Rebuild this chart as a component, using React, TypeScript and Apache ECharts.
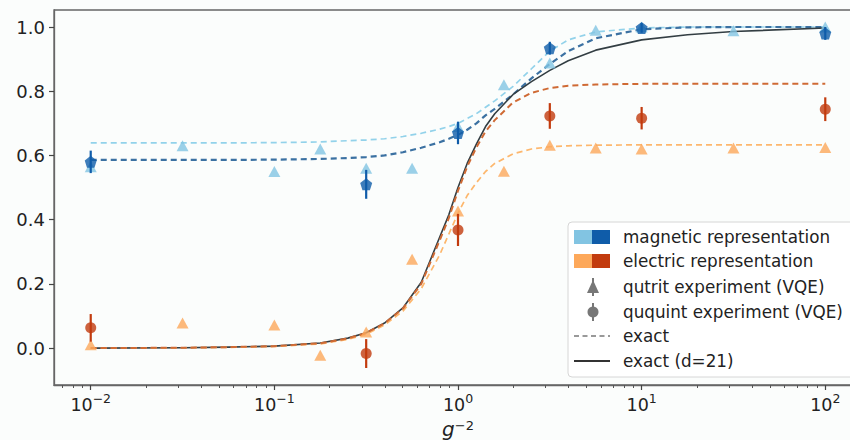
import React, { useEffect, useRef } from 'react';
import * as echarts from 'echarts';

// x values are stored as log10(g^-2)
const majorLogTicks = [-2, -1, 0, 1, 2];
const yTicks = [0, 0.2, 0.4, 0.6, 0.8, 1.0];

// exact curves
const curveLogG = [-2, -1.5, -1.25, -1, -0.75, -0.6, -0.5, -0.4, -0.3, -0.2, -0.1, -0.05, 0, 0.05, 0.1, 0.15, 0.2, 0.3, 0.4, 0.5, 0.6, 0.75, 1, 1.25, 1.5, 2];
const exactQutritMag = [0.639, 0.639, 0.639, 0.64, 0.642, 0.646, 0.648, 0.652, 0.659, 0.669, 0.682, 0.69, 0.7, 0.715, 0.73, 0.75, 0.77, 0.815, 0.87, 0.925, 0.96, 0.985, 0.997, 1.0, 1.0, 1.0];
const exactQuquintMag = [0.586, 0.586, 0.586, 0.587, 0.589, 0.592, 0.595, 0.6, 0.61, 0.624, 0.641, 0.652, 0.664, 0.68, 0.7, 0.725, 0.745, 0.79, 0.84, 0.885, 0.925, 0.965, 0.993, 0.999, 1.0, 1.0];
const exactQutritElec = [0, 0.001, 0.002, 0.005, 0.013, 0.027, 0.043, 0.072, 0.115, 0.185, 0.29, 0.355, 0.42, 0.475, 0.515, 0.55, 0.575, 0.605, 0.62, 0.627, 0.63, 0.632, 0.633, 0.633, 0.633, 0.633];
const exactQuquintElec = [0, 0.001, 0.003, 0.006, 0.015, 0.03, 0.047, 0.077, 0.123, 0.2, 0.335, 0.405, 0.49, 0.565, 0.625, 0.675, 0.71, 0.765, 0.795, 0.81, 0.817, 0.821, 0.823, 0.823, 0.823, 0.823];
const exactD21 = [0, 0.001, 0.003, 0.006, 0.016, 0.031, 0.048, 0.078, 0.125, 0.205, 0.345, 0.415, 0.5, 0.575, 0.635, 0.69, 0.73, 0.79, 0.83, 0.865, 0.895, 0.928, 0.96, 0.976, 0.986, 0.997];

// qutrit experiment (triangles)
const qutritLogG = [-2, -1.5, -1, -0.75, -0.5, -0.25, 0, 0.25, 0.5, 0.75, 1, 1.5, 2];
const qutritMag = [0.565, 0.63, 0.55, 0.62, 0.56, 0.56, 0.69, 0.82, 0.888, 0.99, 1.0, 0.988, 1.0];
const qutritElec = [0.01, 0.078, 0.072, -0.022, 0.05, 0.277, 0.427, 0.551, 0.632, 0.623, 0.62, 0.623, 0.625];

// ququint experiment (dots with error bars)
const ququintLogG = [-2, -0.5, 0, 0.5, 1, 2];
const ququintMag = [0.58, 0.51, 0.67, 0.934, 0.997, 0.98];
const ququintMagErr = [0.035, 0.045, 0.035, 0.02, 0.015, 0.02];
const ququintElec = [0.063, -0.017, 0.368, 0.723, 0.716, 0.744];
const ququintElecErr = [0.043, 0.045, 0.05, 0.04, 0.035, 0.037];

const legendLabels = [
  'magnetic representation',
  'electric representation',
  'qutrit experiment (VQE)',
  'ququint experiment (VQE)',
  'exact',
  'exact (d=21)',
];

const C = {
  lightBlue: '#82c4e2',
  darkBlue: '#0f5ca9',
  lightOrange: '#fda85a',
  darkRed: '#c23b0e',
  lbDash: '#92d2ea',
  dbDash: '#3b71a2',
  loDash: '#fdb76d',
  doDash: '#cf6a34',
  black: '#333e43',
  frame: '#666',
  text: '#222',
};

const FONT = 'DejaVu Sans';

const minorLogTicks: number[] = [];
for (let n = -3; n <= 2; n++) {
  for (let k = 2; k <= 9; k++) {
    const v = n + Math.log10(k);
    if (v > -2.2 && v < 2.2) minorLogTicks.push(v);
  }
}

const zip = (xs: number[], ys: number[]) => xs.map((x, i) => [x, ys[i]]);

function lineSeries(data: number[], color: string, width: number, dashed: boolean, z: number) {
  return {
    type: 'line',
    data: zip(curveLogG, data),
    showSymbol: false,
    smooth: false,
    lineStyle: { color, width, type: dashed ? [6, 4] : 'solid', join: 'round' },
    z,
    silent: true,
  };
}

function errorSeries(xs: number[], ys: number[], errs: number[], color: string) {
  return {
    type: 'custom',
    data: xs.map((x, i) => [x, ys[i], errs[i]]),
    encode: { x: 0, y: 1 },
    renderItem: (_p: any, api: any) => {
      const x = api.value(0);
      const y = api.value(1);
      const e = api.value(2);
      const p1 = api.coord([x, y - e]);
      const p2 = api.coord([x, y + e]);
      return {
        type: 'line',
        shape: { x1: p1[0], y1: p1[1], x2: p2[0], y2: p2[1] },
        style: { stroke: color, lineWidth: 2.2 },
      };
    },
    z: 4,
    silent: true,
  };
}

const pentagon = 'path://M0,-1 L0.951,-0.309 L0.588,0.809 L-0.588,0.809 L-0.951,-0.309 Z';

function buildLegend() {
  const lx = 574;
  const tx = 623;
  const rows = [237, 261, 287, 312, 336, 361];
  const els: any[] = [
    {
      type: 'rect',
      shape: { x: 568, y: 222, width: 300, height: 155, r: 4 },
      style: { fill: 'rgba(255,255,255,0.85)', stroke: '#d6d6d6', lineWidth: 1 },
      z: 10,
    },
    { type: 'rect', shape: { x: lx, y: rows[0] - 7, width: 18, height: 14 }, style: { fill: C.lightBlue }, z: 11 },
    { type: 'rect', shape: { x: lx + 18, y: rows[0] - 7, width: 18, height: 14 }, style: { fill: C.darkBlue }, z: 11 },
    { type: 'rect', shape: { x: lx, y: rows[1] - 7, width: 18, height: 14 }, style: { fill: C.lightOrange }, z: 11 },
    { type: 'rect', shape: { x: lx + 18, y: rows[1] - 7, width: 18, height: 14 }, style: { fill: C.darkRed }, z: 11 },
    { type: 'line', shape: { x1: lx + 19, y1: rows[2] - 9, x2: lx + 19, y2: rows[2] + 9 }, style: { stroke: '#777', lineWidth: 2 }, z: 11 },
    {
      type: 'polygon',
      shape: { points: [[lx + 19, rows[2] - 7], [lx + 13, rows[2] + 6], [lx + 25, rows[2] + 6]] },
      style: { fill: '#777' },
      z: 11,
    },
    { type: 'line', shape: { x1: lx + 19, y1: rows[3] - 9, x2: lx + 19, y2: rows[3] + 9 }, style: { stroke: '#777', lineWidth: 2 }, z: 11 },
    { type: 'circle', shape: { cx: lx + 19, cy: rows[3], r: 5.5 }, style: { fill: '#777' }, z: 11 },
    { type: 'line', shape: { x1: lx, y1: rows[4], x2: lx + 36, y2: rows[4] }, style: { stroke: '#999', lineWidth: 2, lineDash: [5, 3.5] }, z: 11 },
    { type: 'line', shape: { x1: lx, y1: rows[5], x2: lx + 36, y2: rows[5] }, style: { stroke: '#333', lineWidth: 2 }, z: 11 },
  ];
  legendLabels.forEach((t, i) => {
    els.push({
      type: 'text',
      x: tx,
      y: rows[i],
      style: { text: t, fontFamily: FONT, fontSize: 16.8, fill: C.text, verticalAlign: 'middle', align: 'left' },
      z: 11,
    });
  });
  return els;
}

const supLabel = (v: number) => `{b|10}{s|${v < 0 ? '\u2212' : ''}${Math.abs(v)}}`;

const option: any = {
  animation: false,
  backgroundColor: '#fbfdfc',
  grid: {
    left: 54,
    top: 10,
    width: 808,
    height: 375,
    show: true,
    borderColor: C.frame,
    borderWidth: 1.3,
    backgroundColor: 'transparent',
    containLabel: false,
    outerBoundsMode: 'none',
  },
  xAxis: [
    {
      type: 'value',
      min: -2.2,
      max: 2.2,
      position: 'bottom',
      axisLine: { show: true, onZero: false, lineStyle: { color: C.frame, width: 1.3 } },
      axisTick: { show: true, customValues: majorLogTicks, length: 5, lineStyle: { color: '#444', width: 1.2 } },
      axisLabel: {
        customValues: majorLogTicks,
        formatter: (v: number) => supLabel(Math.round(v)),
        margin: 7,
        rich: {
          b: { fontFamily: FONT, fontSize: 17.5, color: C.text, lineHeight: 22, verticalAlign: 'bottom' },
          s: { fontFamily: FONT, fontSize: 12.5, color: C.text, lineHeight: 12, verticalAlign: 'top' },
        },
      },
      splitLine: { show: false },
      name: '{i|g}{s|\u22122}',
      nameLocation: 'middle',
      nameGap: 23,
      nameTextStyle: {
        rich: {
          i: { fontFamily: FONT, fontStyle: 'italic', fontSize: 20, color: C.text, lineHeight: 20, verticalAlign: 'bottom' },
          s: { fontFamily: FONT, fontSize: 13, color: C.text, lineHeight: 12, verticalAlign: 'top' },
        },
      },
    },
    {
      type: 'value',
      min: -2.2,
      max: 2.2,
      position: 'bottom',
      axisLine: { show: false, onZero: false },
      axisTick: { show: true, customValues: minorLogTicks, length: 3, lineStyle: { color: '#555', width: 1 } },
      axisLabel: { show: false },
      splitLine: { show: false },
    },
  ],
  yAxis: {
    type: 'value',
    min: -0.115,
    max: 1.053,
    axisLine: { show: true, onZero: false, lineStyle: { color: C.frame, width: 1.3 } },
    axisTick: { show: true, customValues: yTicks, length: 5, lineStyle: { color: '#444', width: 1.2 } },
    axisLabel: {
      customValues: yTicks,
      formatter: (v: number) => v.toFixed(1),
      fontFamily: FONT,
      fontSize: 18,
      color: C.text,
      margin: 9,
    },
    splitLine: { show: false },
  },
  series: [
    lineSeries(exactQutritMag, C.lbDash, 1.7, true, 2),
    lineSeries(exactQuquintMag, C.dbDash, 2.2, true, 2),
    lineSeries(exactD21, C.black, 1.6, false, 2),
    lineSeries(exactQutritElec, C.loDash, 1.7, true, 2),
    lineSeries(exactQuquintElec, C.doDash, 2.0, true, 2),
    {
      type: 'scatter',
      data: zip(qutritLogG, qutritMag),
      symbol: 'triangle',
      symbolSize: [12, 11],
      itemStyle: { color: C.lightBlue },
      z: 3,
      silent: true,
    },
    {
      type: 'scatter',
      data: zip(qutritLogG, qutritElec),
      symbol: 'triangle',
      symbolSize: [12, 11],
      itemStyle: { color: C.lightOrange },
      z: 3,
      silent: true,
    },
    errorSeries(ququintLogG, ququintMag, ququintMagErr, C.darkBlue),
    errorSeries(ququintLogG, ququintElec, ququintElecErr, C.darkRed),
    {
      type: 'scatter',
      data: zip(ququintLogG, ququintMag),
      symbol: pentagon,
      symbolSize: 12,
      itemStyle: { color: C.darkBlue },
      z: 5,
      silent: true,
    },
    {
      type: 'scatter',
      data: zip(ququintLogG, ququintElec),
      symbol: 'circle',
      symbolSize: 11,
      itemStyle: { color: C.darkRed },
      z: 5,
      silent: true,
    },
  ],
  graphic: buildLegend(),
};

export default function App() {
  const ref = useRef<HTMLDivElement>(null);
  useEffect(() => {
    const chart = echarts.init(ref.current!, null, { renderer: 'svg' });
    chart.setOption(option);
    return () => chart.dispose();
  }, []);
  return (
    <div
      ref={ref}
      style={{ position: 'fixed', left: 0, top: 0, width: 850, height: 440, background: '#fbfdfc' }}
    />
  );
}
